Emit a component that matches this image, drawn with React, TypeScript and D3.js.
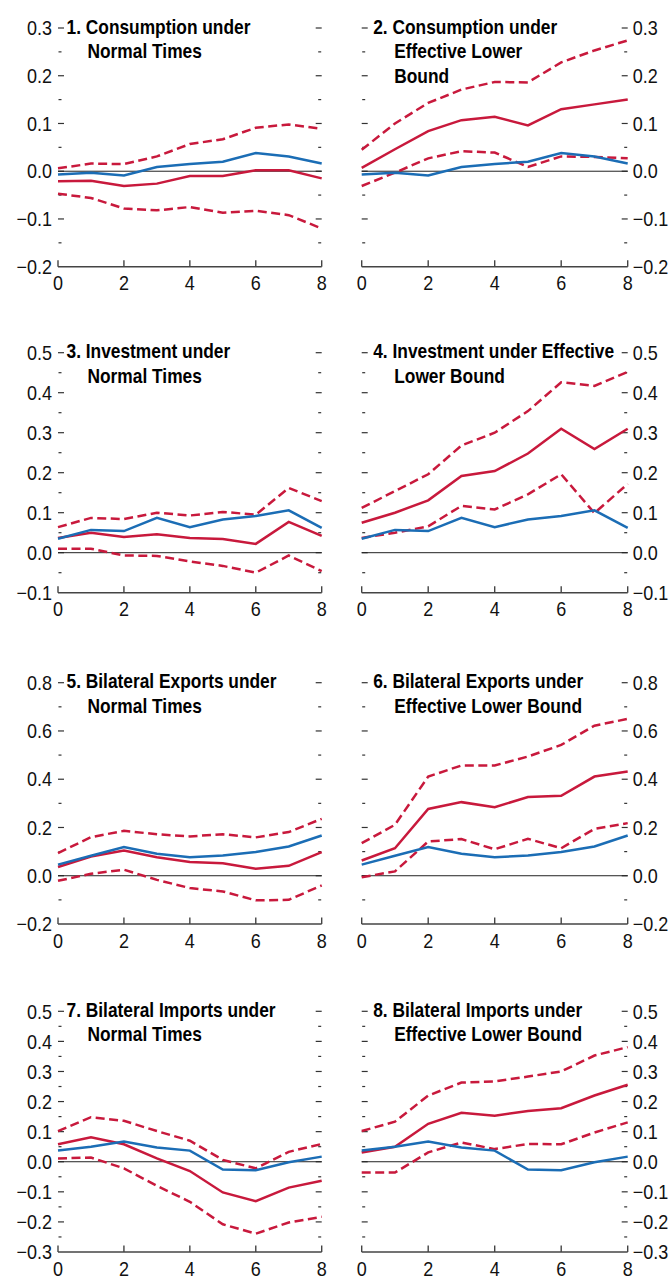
import React from "react";
import * as d3 from "d3";

const horizons = [0, 1, 2, 3, 4, 5, 6, 7, 8];
const xTickValues = [0, 2, 4, 6, 8];

const titles = [
  ["1. Consumption under", "Normal Times"],
  ["2. Consumption under", "Effective Lower", "Bound"],
  ["3. Investment under", "Normal Times"],
  ["4. Investment under Effective", "Lower Bound"],
  ["5. Bilateral Exports under", "Normal Times"],
  ["6. Bilateral Exports under", "Effective Lower Bound"],
  ["7. Bilateral Imports under", "Normal Times"],
  ["8. Bilateral Imports under", "Effective Lower Bound"],
];

// y domains [min, max] and major step
const yDomains = [
  [-0.2, 0.3], [-0.2, 0.3],
  [-0.1, 0.5], [-0.1, 0.5],
  [-0.2, 0.8], [-0.2, 0.8],
  [-0.3, 0.5], [-0.3, 0.5],
];
const yMajorSteps = [0.1, 0.1, 0.1, 0.1, 0.2, 0.2, 0.1, 0.1];

// Blue line
const blueConsumption = [-0.007, -0.003, -0.009, 0.009, 0.015, 0.02, 0.038, 0.031, 0.016];
const blueInvestment = [0.035, 0.057, 0.054, 0.087, 0.064, 0.083, 0.092, 0.106, 0.062];
const blueExports = [0.046, 0.083, 0.119, 0.091, 0.077, 0.084, 0.098, 0.121, 0.167];
const blueImports = [0.037, 0.05, 0.067, 0.047, 0.037, -0.026, -0.028, -0.002, 0.017];

// Red solid (point estimate)
const redPoint = [
  [-0.021, -0.02, -0.031, -0.026, -0.01, -0.01, 0.002, 0.002, -0.015],
  [0.007, 0.046, 0.084, 0.107, 0.114, 0.096, 0.13, 0.14, 0.15],
  [0.037, 0.05, 0.039, 0.046, 0.037, 0.034, 0.022, 0.077, 0.042],
  [0.075, 0.1, 0.131, 0.192, 0.204, 0.248, 0.31, 0.259, 0.31],
  [0.036, 0.08, 0.105, 0.077, 0.057, 0.052, 0.029, 0.041, 0.098],
  [0.063, 0.114, 0.277, 0.305, 0.284, 0.326, 0.331, 0.411, 0.432],
  [0.058, 0.081, 0.058, 0.011, -0.031, -0.102, -0.131, -0.086, -0.063],
  [0.031, 0.05, 0.126, 0.163, 0.153, 0.169, 0.178, 0.22, 0.256],
];

// Red dashed upper band
const redUpper = [
  [0.006, 0.016, 0.015, 0.031, 0.057, 0.067, 0.091, 0.098, 0.089],
  [0.045, 0.1, 0.143, 0.171, 0.187, 0.186, 0.228, 0.253, 0.274],
  [0.064, 0.087, 0.084, 0.1, 0.093, 0.102, 0.095, 0.162, 0.129],
  [0.112, 0.154, 0.196, 0.268, 0.3, 0.354, 0.426, 0.417, 0.452],
  [0.094, 0.16, 0.186, 0.172, 0.163, 0.172, 0.159, 0.181, 0.236],
  [0.135, 0.211, 0.411, 0.457, 0.457, 0.494, 0.542, 0.622, 0.65],
  [0.102, 0.148, 0.136, 0.102, 0.07, 0.006, -0.022, 0.033, 0.059],
  [0.102, 0.133, 0.22, 0.263, 0.267, 0.283, 0.3, 0.353, 0.381],
];

// Red dashed lower band
const redLower = [
  [-0.047, -0.056, -0.078, -0.082, -0.075, -0.087, -0.083, -0.092, -0.12],
  [-0.031, -0.003, 0.027, 0.042, 0.039, 0.009, 0.031, 0.03, 0.027],
  [0.01, 0.01, -0.007, -0.008, -0.022, -0.033, -0.05, -0.007, -0.046],
  [0.037, 0.05, 0.066, 0.117, 0.108, 0.146, 0.196, 0.099, 0.172],
  [-0.021, 0.008, 0.025, -0.017, -0.051, -0.065, -0.102, -0.1, -0.04],
  [-0.006, 0.018, 0.142, 0.152, 0.11, 0.153, 0.114, 0.194, 0.218],
  [0.011, 0.014, -0.022, -0.08, -0.133, -0.208, -0.239, -0.202, -0.183],
  [-0.036, -0.036, 0.031, 0.064, 0.042, 0.059, 0.058, 0.097, 0.131],
];

const blueSeries = [
  blueConsumption, blueConsumption,
  blueInvestment, blueInvestment,
  blueExports, blueExports,
  blueImports, blueImports,
];

const RED = "#c8193c";
const BLUE = "#1b6db5";
const FONT = "'Liberation Sans', Arial, Helvetica, sans-serif";

const rowTops = [28, 352.7, 682.7, 1011.3];
const rowBottoms = [266.7, 592.7, 924, 1252];
const colLeft = [58, 361.7];
const colRight = [321.7, 627.7];

const fmt = d3.format(".1f");

function Panel({ idx }: { idx: number }) {
  const row = Math.floor(idx / 2);
  const col = idx % 2;
  const x = d3.scaleLinear().domain([0, 8]).range([colLeft[col], colRight[col]]);
  const [lo, hi] = yDomains[idx];
  const y = d3.scaleLinear().domain([lo, hi]).range([rowBottoms[row], rowTops[row]]);
  const step = yMajorSteps[idx];
  const nMajor = Math.round((hi - lo) / step);
  const majors = d3.range(nMajor + 1).map((i) => lo + i * step);
  const minors = d3.range(nMajor).map((i) => lo + (i + 0.5) * step);
  const line = d3
    .line<number>()
    .x((_, i) => x(horizons[i]))
    .y((d) => y(d));

  const xl = colLeft[col];
  const xr = colRight[col];
  const bottom = rowBottoms[row];
  const top = rowTops[row];
  const lines = titles[idx];
  const tx0 = col === 0 ? xl + 8.5 : xl + 11.5;

  return (
    <g>
      {majors.filter((v) => Math.abs(v - lo) > 1e-9).map((v, i) => (
        <g key={"M" + i}>
          <line x1={xl} x2={xl + 6} y1={y(v)} y2={y(v)} stroke="#333" strokeWidth={1.2} />
          <line x1={xr - 6} x2={xr} y1={y(v)} y2={y(v)} stroke="#333" strokeWidth={1.2} />
        </g>
      ))}
      {minors.map((v, i) => (
        <g key={"m" + i}>
          <line x1={xl + 0.5} x2={xl + 3.5} y1={y(v)} y2={y(v)} stroke="#333" strokeWidth={1.2} />
          <line x1={xr - 3.5} x2={xr - 0.5} y1={y(v)} y2={y(v)} stroke="#333" strokeWidth={1.2} />
        </g>
      ))}
      {majors.map((v, i) => (
        <text
          key={"l" + i}
          transform={`translate(${col === 0 ? xl - 6 : xr + 5},${y(v)}) scale(0.9,1)`}
          dy="0.36em"
          textAnchor={col === 0 ? "end" : "start"}
          fontFamily={FONT}
          fontSize={20}
          fill="#111"
        >
          {fmt(v)}
        </text>
      ))}
      <line x1={xl} x2={xr} y1={bottom} y2={bottom} stroke="#444" strokeWidth={1.4} />
      {xTickValues.map((v) => (
        <g key={"x" + v}>
          <line x1={x(v)} x2={x(v)} y1={bottom} y2={bottom - 6.5} stroke="#444" strokeWidth={1.4} />
          <text
            transform={`translate(${x(v)},${bottom + 23.5}) scale(0.9,1)`}
            textAnchor="middle"
            fontFamily={FONT}
            fontSize={20}
            fill="#111"
          >
            {v}
          </text>
        </g>
      ))}
      <line x1={xl} x2={xr} y1={y(0)} y2={y(0)} stroke="#222" strokeWidth={1} />
      <path d={line(redUpper[idx]) || ""} fill="none" stroke={RED} strokeWidth={2.5} strokeDasharray="9,4.5" />
      <path d={line(redLower[idx]) || ""} fill="none" stroke={RED} strokeWidth={2.5} strokeDasharray="9,4.5" />
      <path d={line(redPoint[idx]) || ""} fill="none" stroke={RED} strokeWidth={2.5} />
      <path d={line(blueSeries[idx]) || ""} fill="none" stroke={BLUE} strokeWidth={2.5} />
      {lines.map((t, i) => (
        <text
          key={"t" + i}
          transform={`translate(${i === 0 ? tx0 : tx0 + 21},${top + 5.5 + i * 24.5}) scale(0.89,1)`}
          fontFamily={FONT}
          fontWeight="bold"
          fontSize={19.5}
          fill="#000"
        >
          {t}
        </text>
      ))}
    </g>
  );
}

export default function App() {
  return (
    <svg
      width={670}
      height={1277}
      viewBox="0 0 670 1277"
      style={{ position: "absolute", left: 0, top: 0, background: "#fff" }}
    >
      <rect x={0} y={0} width={670} height={1277} fill="#fff" />
      {d3.range(8).map((i) => (
        <Panel key={i} idx={i} />
      ))}
    </svg>
  );
}
